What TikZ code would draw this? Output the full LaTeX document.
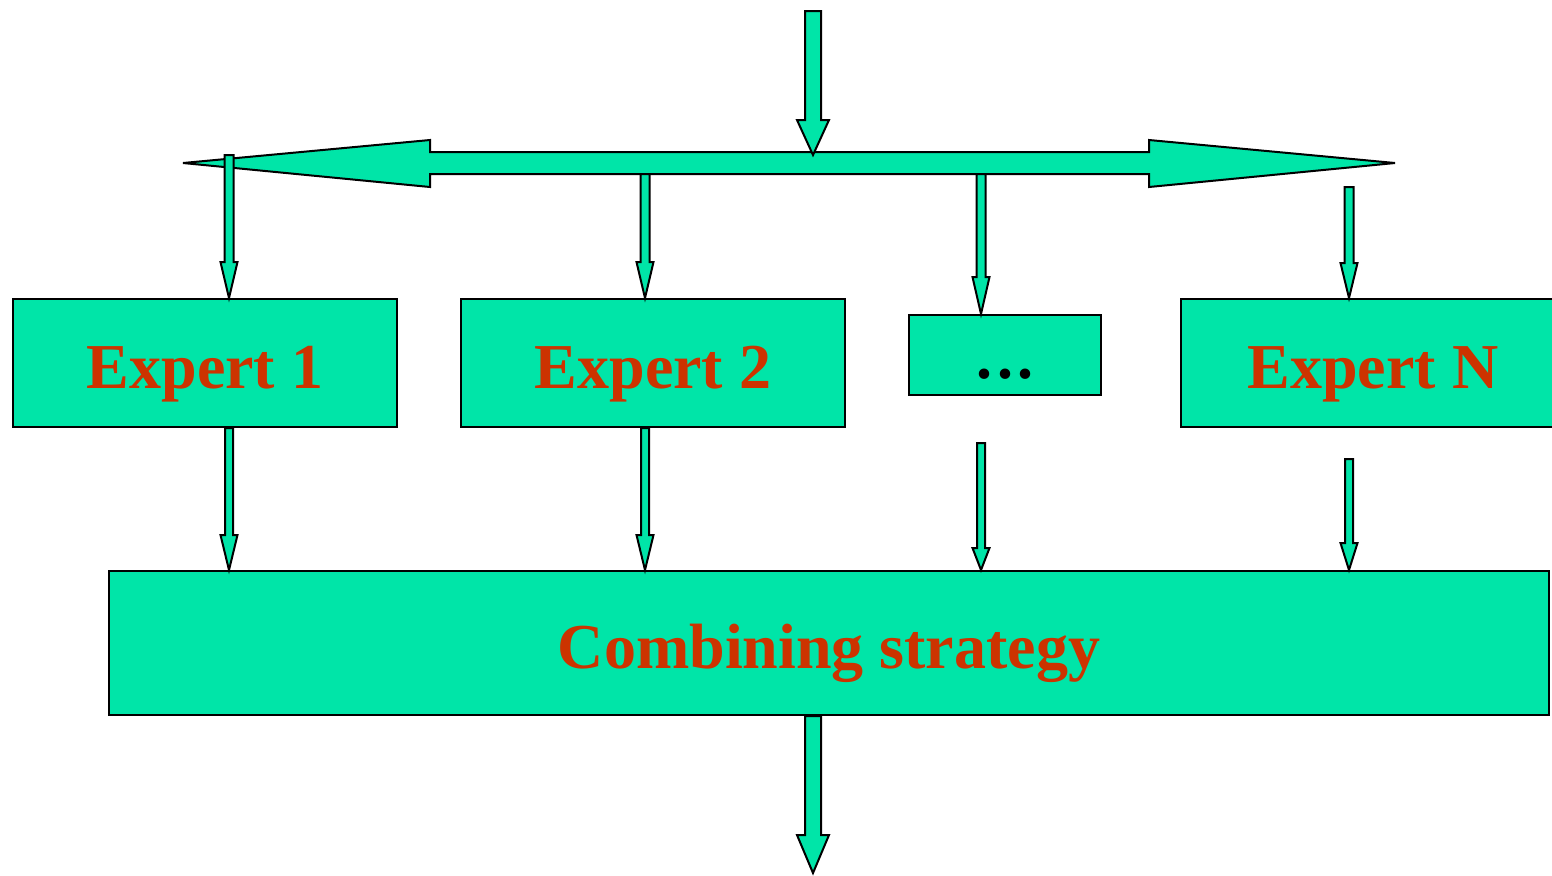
\documentclass[tikz,border=0pt]{standalone}
\usepackage{fontspec}
\setmainfont{Liberation Serif}
\usetikzlibrary{calc}
\definecolor{boxgreen}{RGB}{0,229,168}
\definecolor{labelred}{RGB}{204,51,0}

% block arrow pointing down: from, to, shaft half width, head half width, head length
\newcommand{\downblock}[5]{%
  \draw[blockarrow] ($(#1)+(-#3,0)$) -- ($(#2)+(-#3,-#5)$) -- ($(#2)+(-#4,-#5)$) -- (#2)
    -- ($(#2)+(#4,-#5)$) -- ($(#2)+(#3,-#5)$) -- ($(#1)+(#3,0)$) -- cycle;}

\begin{document}
\begin{tikzpicture}[x=0.5pt, y=-0.5pt,
  blockarrow/.style={draw=black, line width=1pt, fill=boxgreen, line join=miter},
  expert/.style={draw=black, line width=1pt, fill=boxgreen, inner sep=0pt,
    minimum width=192pt, minimum height=64pt, text=labelred,
    text height=25pt, text depth=0pt,
    font=\fontsize{32}{38}\selectfont\bfseries}]
\useasboundingbox (0,0) rectangle (1552,875);
\clip (0,0) rectangle (1552,875);

% the spreading bus
\coordinate (in) at (813,11);
\coordinate (bus) at (813,155);
\draw[blockarrow] (183,163) -- (430,140) -- (430,152) -- (1149,152) -- (1149,140) -- (1395,163)
  -- (1149,187) -- (1149,174) -- (430,174) -- (430,187) -- cycle;
\downblock{in}{bus}{8}{16}{35}

% the experts
\node[expert] (e1) at (205,363) {Expert 1};
\node[expert] (e2) at (653,363) {Expert 2};
\node[expert, minimum width=96pt, minimum height=40pt, text=black, text height=23pt] (edots) at (1005,355) {.\kern2.5pt.\kern2.5pt.};
\node[expert] (eN) at (1373,363) {Expert N};
\node[expert, minimum width=720pt, minimum height=72pt] (comb) at (829,643) {Combining strategy};

% bus to experts
\coordinate (b1) at (229,155);
\coordinate (b2) at (645,174);
\coordinate (b3) at (981,174);
\coordinate (b4) at (1349,187);
\downblock{b1}{b1 |- e1.north}{4.5}{8.5}{36}
\downblock{b2}{b2 |- e2.north}{4.5}{8.5}{36}
\downblock{b3}{b3 |- edots.north}{4.5}{8.5}{37}
\downblock{b4}{b4 |- eN.north}{4.5}{8.5}{35}

% experts to combining strategy
\coordinate (c3) at (981,443);
\coordinate (c4) at (1349,459);
\downblock{b1 |- e1.south}{b1 |- comb.north}{4}{8.5}{35}
\downblock{b2 |- e2.south}{b2 |- comb.north}{4}{8.5}{35}
\downblock{c3}{c3 |- comb.north}{4}{8.5}{22}
\downblock{c4}{c4 |- comb.north}{4}{8.5}{27}

% output
\coordinate (out) at (813,873);
\downblock{out |- comb.south}{out}{8}{16}{38}
\end{tikzpicture}
\end{document}
